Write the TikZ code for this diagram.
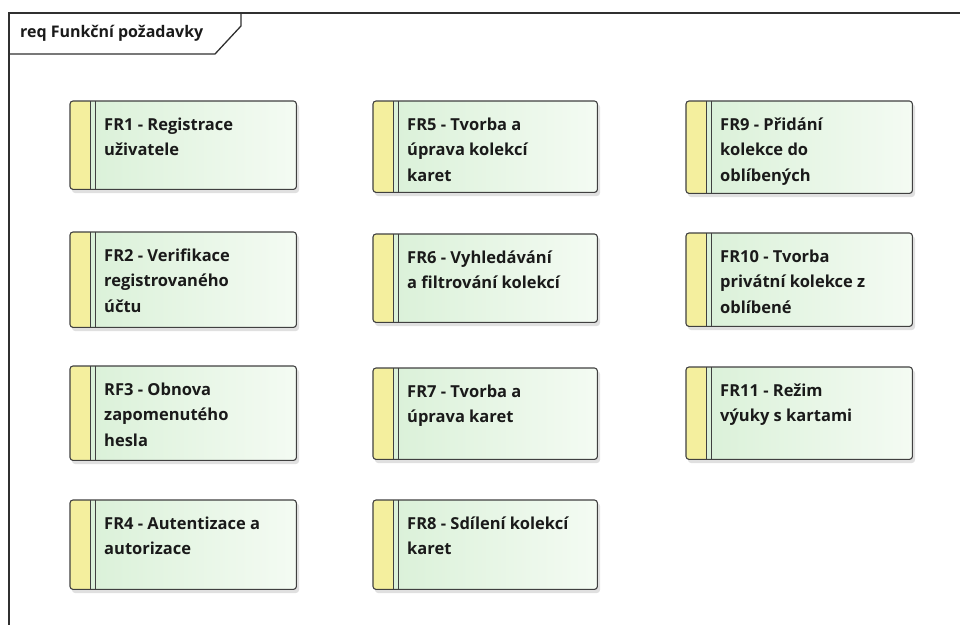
\documentclass[tikz,border=0pt]{standalone}
\usepackage{fontspec}
\setmainfont{Open Sans}
\usetikzlibrary{calc}
\definecolor{framec}{HTML}{303030}
\definecolor{edgec}{HTML}{404040}
\definecolor{bandc}{HTML}{F4EF9E}
\definecolor{greenl}{HTML}{D8F0D6}
\definecolor{greenr}{HTML}{F4FBF3}
\definecolor{txtc}{HTML}{1A1A1A}
\tikzset{
  reqbody/.style={rounded corners=3pt, inner sep=0pt, anchor=north west, left color=greenl, right color=greenr},
  reqedge/.style={draw=edgec, line width=1.1pt},
  reqtext/.style={inner sep=0pt, anchor=base west, text=txtc, font=\fontsize{16.5}{25.8}\selectfont\bfseries},
  shadowc/.style={fill=black, opacity=0.12, rounded corners=3pt},
}
\newcommand\ReqBox[6]{%
  \fill[shadowc] ({#2+2},{#3+3}) rectangle ({#4+3},{#5+4});
  \node[reqbody, minimum width={(#4-#2)*1pt}, minimum height={(#5-#3)*1pt}] (#1) at (#2,#3) {};
  \begin{scope}
    \clip[rounded corners=3pt] (#1.north west) rectangle (#1.south east);
    \fill[bandc] (#1.north west) rectangle ([xshift=20pt]#1.south west);
  \end{scope}
  \draw[reqedge, rounded corners=3pt] (#1.north west) rectangle (#1.south east);
  \draw[edgec, line width=1pt] ([xshift=20pt]#1.north west) -- ([xshift=20pt]#1.south west);
  \draw[edgec, line width=1pt] ([xshift=25pt]#1.north west) -- ([xshift=25pt]#1.south west);
  \node[reqtext] (#1t) at ([shift={(34pt,-29pt)}]#1.north west) {\parbox[t]{200pt}{\raggedright #6}};
}
\begin{document}
\begin{tikzpicture}[x=1pt,y=-1pt]
\useasboundingbox (0,0) rectangle (960,624);
% frame
\draw[framec, line width=1.3pt] (9,630) -- (9,13) -- (966,13);
\draw[framec, line width=1.3pt] (9,54) -- (215,54) -- (241,26) -- (241,13);
\node[inner sep=0pt, anchor=base west, text=txtc, font=\fontsize{16}{18}\selectfont\bfseries] (title) at (20,37.5) {req Funkční požadavky};
\ReqBox{fr1}{70}{101}{296}{189}{FR1 - Registrace\\uživatele}
\ReqBox{fr2}{70}{232}{296}{327}{FR2 - Verifikace\\registrovaného\\účtu}
\ReqBox{rf3}{70}{366}{296}{460}{RF3 - Obnova\\zapomenutého\\hesla}
\ReqBox{fr4}{70}{500}{296}{589}{FR4 - Autentizace a\\autorizace}
\ReqBox{fr5}{373}{101}{597}{192}{FR5 - Tvorba a\\úprava kolekcí\\karet}
\ReqBox{fr6}{373}{234}{597}{322}{FR6 - Vyhledávání\\a filtrování kolekcí}
\ReqBox{fr7}{373}{368}{597}{459}{FR7 - Tvorba a\\úprava karet}
\ReqBox{fr8}{373}{500}{597}{589}{FR8 - Sdílení kolekcí\\karet}
\ReqBox{fr9}{686}{101}{912}{193}{FR9 - Přidání\\kolekce do\\oblíbených}
\ReqBox{fr10}{686}{233}{912}{326}{FR10 - Tvorba\\privátní kolekce z\\oblíbené}
\ReqBox{fr11}{686}{367}{912}{459}{FR11 - Režim\\výuky s kartami}
\end{tikzpicture}
\end{document}
